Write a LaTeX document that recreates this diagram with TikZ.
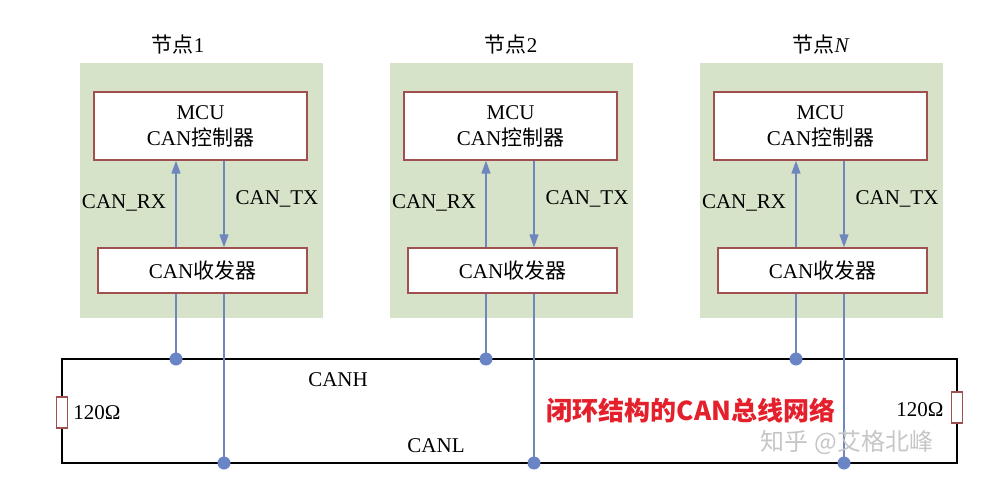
\documentclass[tikz,border=0pt]{standalone}
\usepackage{fontspec}
\setmainfont{Liberation Serif}
\newfontfamily\cjk{Noto Sans CJK SC}
\usetikzlibrary{arrows.meta}
\definecolor{nodegreen}{HTML}{D6E3C8}
\definecolor{boxred}{HTML}{A0504E}
\definecolor{sigblue}{HTML}{6F87BD}
\definecolor{dotblue}{HTML}{6A85C5}
\definecolor{titlered}{HTML}{E3202B}
\begin{document}
\begin{tikzpicture}[x=1pt,y=-1pt,
  font=\fontsize{21}{26}\selectfont,
  greenbg/.style={fill=nodegreen, draw=none, inner sep=0pt, minimum width=243pt, minimum height=255pt},
  blockbox/.style={draw=boxred, line width=1.3pt, fill=white, align=center, inner sep=0pt},
  sig/.style={draw=sigblue, line width=1.4pt},
  sigarr/.style={sig, -{Triangle[length=13pt,width=9pt]}},
  bus/.style={draw=black, line width=1.6pt},
  junction/.style={circle, fill=dotblue, inner sep=0pt, minimum size=13pt},
  resistor/.style={draw=boxred, line width=1.3pt, fill=white, minimum width=11pt, minimum height=31pt, inner sep=0pt},
  lbl/.style={inner sep=0pt}
]
\useasboundingbox (0,0) rectangle (998,481);

% bus
\coordinate (htl) at (62,359);
\coordinate (htr) at (957,359);
\coordinate (ltl) at (62,463);
\coordinate (ltr) at (957,463);
\node[resistor] (rleft) at (62,412.5) {};
\node[resistor] (rright) at (957,407.5) {};
\draw[bus] (rleft.north) -- (htl) -- (htr) -- (rright.north);
\draw[bus] (rleft.south) -- (ltl) -- (ltr) -- (rright.south);

\foreach \i/\dx/\tx/\num in {1/0/178/1, 2/310/511/2, N/620/821/{\textit{N}}}{
  \node[greenbg] (bg\i) at (201.5+\dx,190.5) {};
  \node[lbl] (title\i) at (\tx,45) {{\cjk 节点}\num};
  \node[blockbox, minimum width=213pt, minimum height=68pt] (mcu\i) at (200.5+\dx,126) {MCU\\CAN{\cjk 控制器}};
  \node[blockbox, minimum width=209pt, minimum height=45pt] (trx\i) at (202.5+\dx,270.5) {CAN{\cjk 收发器}};
  \node[lbl] (rxlab\i) at (124+\dx,203) {CAN\_RX};
  \node[lbl] (txlab\i) at (277+\dx,199) {CAN\_TX};
  \coordinate (hx\i) at (176+\dx,359);
  \coordinate (lx\i) at (224+\dx,463);
  \draw[sigarr] (trx\i.north -| hx\i) -- (mcu\i.south -| hx\i);
  \draw[sigarr] (mcu\i.south -| lx\i) -- (trx\i.north -| lx\i);
  \draw[sig] (trx\i.south -| hx\i) -- (hx\i);
  \draw[sig] (trx\i.south -| lx\i) -- (lx\i);
  \node[junction] (h\i) at (hx\i) {};
  \node[junction] (l\i) at (lx\i) {};
}

\node[lbl] (canh) at (338,380) {CANH};
\node[lbl] (canl) at (436,446) {CANL};
\node[lbl] (rlab) at (97,413) {120Ω};
\node[lbl] (rrlab) at (920,410) {120Ω};
\node[lbl, text=titlered, font=\fontsize{26}{28}\selectfont\cjk\bfseries] (caption) at (691,410) {闭环结构的CAN总线网络};
\node[lbl, text=gray!45, font=\fontsize{24}{28}\selectfont\cjk] (mark) at (847,442) {知乎 @艾格北峰};
\end{tikzpicture}
\end{document}
